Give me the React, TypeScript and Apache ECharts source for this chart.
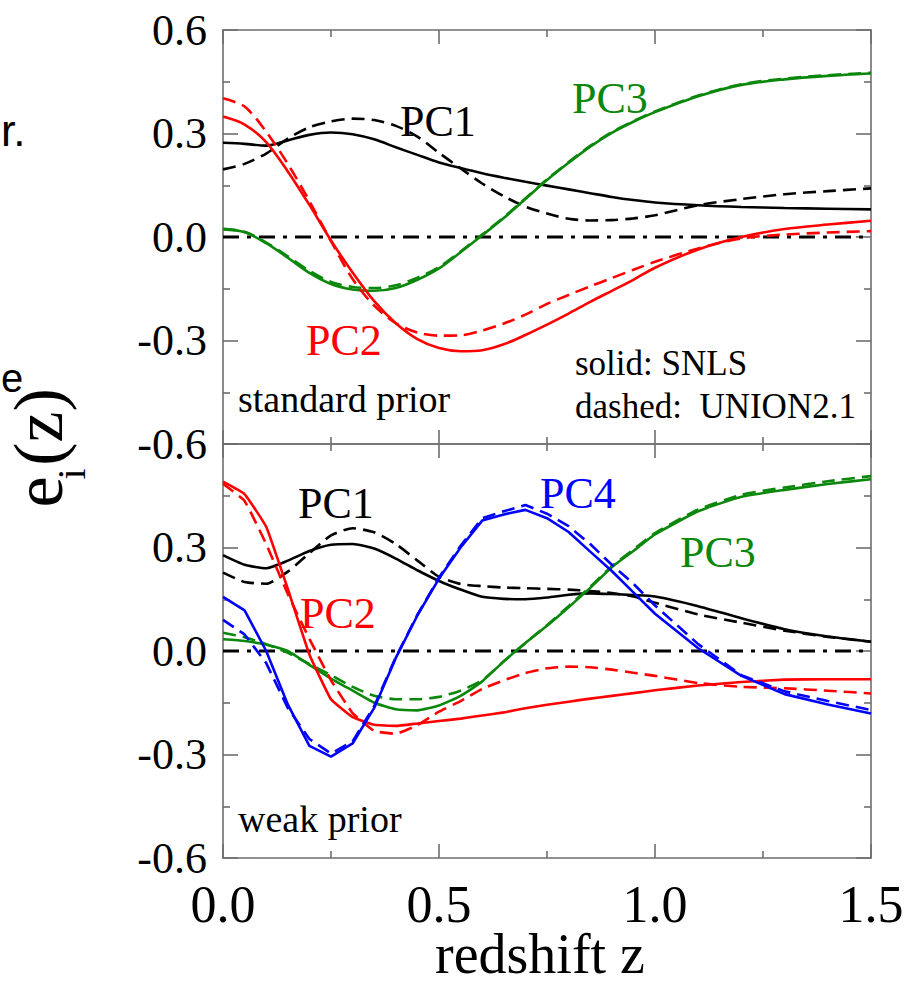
import React, { useEffect, useRef } from "react";
import * as echarts from "echarts";

// redshift grid shared by all curves
const Z = [0, 0.05, 0.1, 0.15, 0.2, 0.25, 0.3, 0.35, 0.4, 0.45, 0.5, 0.55, 0.6, 0.65, 0.7, 0.75, 0.8, 0.85, 0.9, 0.95, 1.0, 1.1, 1.2, 1.3, 1.4, 1.5];

// ---- standard prior (top panel) ----
const STD_PC1_SNLS = [0.273, 0.27, 0.265, 0.28, 0.296, 0.303, 0.298, 0.283, 0.26, 0.238, 0.216, 0.2, 0.185, 0.172, 0.16, 0.149, 0.138, 0.127, 0.116, 0.107, 0.1, 0.092, 0.087, 0.084, 0.082, 0.08];
const STD_PC1_UNION = [0.196, 0.212, 0.242, 0.285, 0.318, 0.335, 0.343, 0.339, 0.322, 0.291, 0.244, 0.199, 0.155, 0.118, 0.088, 0.068, 0.053, 0.048, 0.049, 0.054, 0.063, 0.092, 0.11, 0.124, 0.133, 0.141];
const STD_PC2_SNLS = [0.349, 0.326, 0.275, 0.19, 0.093, -0.01, -0.103, -0.186, -0.25, -0.296, -0.322, -0.331, -0.328, -0.311, -0.284, -0.254, -0.222, -0.188, -0.156, -0.124, -0.089, -0.036, 0.0, 0.023, 0.036, 0.047];
const STD_PC2_UNION = [0.402, 0.378, 0.305, 0.212, 0.104, -0.012, -0.122, -0.199, -0.25, -0.277, -0.286, -0.285, -0.271, -0.251, -0.225, -0.194, -0.168, -0.143, -0.119, -0.095, -0.072, -0.033, -0.004, 0.007, 0.013, 0.017];
const STD_PC3_SNLS = [0.022, 0.014, -0.018, -0.06, -0.104, -0.136, -0.152, -0.156, -0.148, -0.124, -0.091, -0.044, 0.005, 0.055, 0.11, 0.165, 0.215, 0.262, 0.302, 0.334, 0.362, 0.408, 0.441, 0.457, 0.467, 0.474];
const STD_PC3_UNION = [0.024, 0.015, -0.016, -0.056, -0.098, -0.13, -0.145, -0.148, -0.14, -0.118, -0.087, -0.042, 0.007, 0.057, 0.112, 0.167, 0.217, 0.264, 0.304, 0.336, 0.364, 0.41, 0.443, 0.459, 0.469, 0.476];

// ---- weak prior (bottom panel) ----
const WEAK_PC1_SNLS = [0.278, 0.25, 0.24, 0.262, 0.29, 0.308, 0.31, 0.297, 0.268, 0.234, 0.203, 0.178, 0.157, 0.151, 0.15, 0.155, 0.163, 0.167, 0.165, 0.162, 0.158, 0.13, 0.095, 0.063, 0.042, 0.027];
const WEAK_PC1_UNION = [0.227, 0.2, 0.195, 0.23, 0.284, 0.335, 0.356, 0.344, 0.31, 0.262, 0.215, 0.194, 0.188, 0.184, 0.182, 0.18, 0.178, 0.174, 0.168, 0.158, 0.14, 0.106, 0.082, 0.059, 0.041, 0.027];
const WEAK_PC2_SNLS = [0.491, 0.455, 0.36, 0.18, -0.01, -0.14, -0.192, -0.214, -0.217, -0.21, -0.203, -0.196, -0.187, -0.178, -0.166, -0.156, -0.147, -0.138, -0.13, -0.122, -0.114, -0.1, -0.09, -0.083, -0.082, -0.082];
const WEAK_PC2_UNION = [0.485, 0.435, 0.31, 0.165, 0.035, -0.085, -0.18, -0.232, -0.24, -0.215, -0.176, -0.145, -0.11, -0.085, -0.064, -0.05, -0.045, -0.047, -0.054, -0.063, -0.072, -0.093, -0.104, -0.108, -0.115, -0.123];
const WEAK_PC3_SNLS = [0.034, 0.029, 0.018, 0.0, -0.04, -0.08, -0.115, -0.15, -0.169, -0.172, -0.158, -0.13, -0.088, -0.03, 0.023, 0.073, 0.127, 0.183, 0.243, 0.29, 0.338, 0.405, 0.447, 0.467, 0.484, 0.498];
const WEAK_PC3_UNION = [0.053, 0.04, 0.02, -0.005, -0.038, -0.07, -0.104, -0.13, -0.14, -0.14, -0.133, -0.115, -0.085, -0.03, 0.023, 0.075, 0.13, 0.186, 0.246, 0.294, 0.342, 0.41, 0.453, 0.474, 0.492, 0.507];
const WEAK_PC4_SNLS = [0.157, 0.118, 0.0, -0.155, -0.275, -0.306, -0.268, -0.165, -0.02, 0.103, 0.21, 0.3, 0.378, 0.396, 0.409, 0.385, 0.345, 0.288, 0.232, 0.17, 0.108, 0.008, -0.072, -0.125, -0.155, -0.181];
const WEAK_PC4_UNION = [0.09, 0.048, -0.035, -0.165, -0.255, -0.297, -0.262, -0.16, -0.018, 0.105, 0.213, 0.305, 0.385, 0.405, 0.423, 0.398, 0.362, 0.31, 0.25, 0.195, 0.132, 0.02, -0.07, -0.117, -0.145, -0.171];

const ZERO_LINE = [0, 1.5];

// axis ticks
const X_MIN = 0;
const X_MAX = 1.5;
const X_STEP = 0.5;
const Y_MIN = -0.6;
const Y_MAX = 0.6;
const Y_STEP = 0.3;

const SERIF = "'Liberation Serif', 'Times New Roman', serif";
const SANS = "'Liberation Sans', Arial, sans-serif";
const AXIS_COLOR = "#6e6e6e";
const RED = "#ff0000";
const GREEN = "#0b870b";
const BLUE = "#0000ff";
const BLACK = "#000000";

const fmt = (v: number) => (Math.abs(v) < 1e-9 ? 0 : v).toFixed(1);

function xAxis(gridIndex: number, position: "top" | "bottom", showLabels: boolean) {
  return {
    type: "value",
    gridIndex,
    position,
    min: X_MIN,
    max: X_MAX,
    interval: X_STEP,
    axisLine: { show: true, onZero: false, lineStyle: { color: AXIS_COLOR, width: 1.6 } },
    axisTick: { show: true, inside: true, length: 14, lineStyle: { color: AXIS_COLOR, width: 1.6 } },
    minorTick: { show: true, splitNumber: 2, length: 7, lineStyle: { color: AXIS_COLOR, width: 1.6 } },
    splitLine: { show: false },
    minorSplitLine: { show: false },
    axisLabel: {
      show: showLabels,
      formatter: fmt,
      fontFamily: SERIF,
      fontSize: 52,
      color: "#000",
      margin: 20,
    },
  };
}

function yAxis(gridIndex: number, position: "left" | "right", showLabels: boolean, showMax: boolean) {
  return {
    type: "value",
    gridIndex,
    position,
    min: Y_MIN,
    max: Y_MAX,
    interval: Y_STEP,
    axisLine: { show: true, onZero: false, lineStyle: { color: AXIS_COLOR, width: 1.6 } },
    axisTick: { show: true, inside: true, length: 15, lineStyle: { color: AXIS_COLOR, width: 1.6 } },
    minorTick: { show: true, splitNumber: 2, length: 7, lineStyle: { color: AXIS_COLOR, width: 1.6 } },
    splitLine: { show: false },
    minorSplitLine: { show: false },
    axisLabel: {
      show: showLabels,
      showMaxLabel: showMax,
      showMinLabel: true,
      formatter: fmt,
      fontFamily: SERIF,
      fontSize: 44,
      color: "#000",
      margin: 16,
    },
  };
}

function curve(name: string, values: number[], panel: number, color: string, dashed: boolean, smooth: number) {
  return {
    name,
    type: "line",
    xAxisIndex: panel === 0 ? 0 : 2,
    yAxisIndex: panel === 0 ? 0 : 2,
    data: Z.map((z, i) => [z, values[i]]),
    showSymbol: false,
    smooth,
    lineStyle: { color, width: 2.6, type: dashed ? [13, 7] : "solid" },
    z: 3,
  };
}

function zeroLine(panel: number) {
  return {
    name: "zero" + panel,
    type: "line",
    xAxisIndex: panel === 0 ? 0 : 2,
    yAxisIndex: panel === 0 ? 0 : 2,
    data: ZERO_LINE.map((z) => [z, 0]),
    showSymbol: false,
    lineStyle: { color: BLACK, width: 2.8, type: [16, 8, 4, 8] },
    z: 2,
  };
}

function label(text: string, x: number, y: number, color: string, size: number, extra: any = {}) {
  return {
    type: "text",
    x,
    y,
    z: 10,
    style: {
      text,
      fill: color,
      fontFamily: SERIF,
      fontSize: size,
      align: "left",
      verticalAlign: "middle",
      ...extra,
    },
  };
}

export default function App() {
  const ref = useRef<HTMLDivElement>(null);
  useEffect(() => {
    const chart = echarts.init(ref.current!, null, { renderer: "svg" });
    const option: any = {
      animation: false,
      backgroundColor: "#ffffff",
      grid: [
        { left: 223, top: 30, width: 648, height: 414, containLabel: false },
        { left: 223, top: 444, width: 648, height: 414, containLabel: false },
      ],
      xAxis: [
        xAxis(0, "bottom", false),
        xAxis(0, "top", false),
        xAxis(1, "bottom", true),
        xAxis(1, "top", false),
      ],
      yAxis: [
        yAxis(0, "left", true, true),
        yAxis(0, "right", false, true),
        yAxis(1, "left", true, false),
        yAxis(1, "right", false, false),
      ],
      series: [
        zeroLine(0),
        zeroLine(1),
        curve("std PC1 SNLS", STD_PC1_SNLS, 0, BLACK, false, 0.3),
        curve("std PC1 UNION2.1", STD_PC1_UNION, 0, BLACK, true, 0.3),
        curve("std PC3 UNION2.1", STD_PC3_UNION, 0, GREEN, true, 0.3),
        curve("std PC3 SNLS", STD_PC3_SNLS, 0, GREEN, false, 0.3),
        curve("std PC2 UNION2.1", STD_PC2_UNION, 0, RED, true, 0.3),
        curve("std PC2 SNLS", STD_PC2_SNLS, 0, RED, false, 0.3),
        curve("weak PC1 SNLS", WEAK_PC1_SNLS, 1, BLACK, false, 0.2),
        curve("weak PC1 UNION2.1", WEAK_PC1_UNION, 1, BLACK, true, 0.2),
        curve("weak PC3 UNION2.1", WEAK_PC3_UNION, 1, GREEN, true, 0.15),
        curve("weak PC3 SNLS", WEAK_PC3_SNLS, 1, GREEN, false, 0.15),
        curve("weak PC2 UNION2.1", WEAK_PC2_UNION, 1, RED, true, 0.1),
        curve("weak PC2 SNLS", WEAK_PC2_SNLS, 1, RED, false, 0.1),
        curve("weak PC4 UNION2.1", WEAK_PC4_UNION, 1, BLUE, true, 0),
        curve("weak PC4 SNLS", WEAK_PC4_SNLS, 1, BLUE, false, 0),
      ],
      graphic: [
        // top panel annotations
        label("PC1", 400, 121, BLACK, 44),
        label("PC3", 572, 98, GREEN, 44),
        label("PC2", 306, 340, RED, 44),
        label("standard prior", 238, 399, BLACK, 38),
        label("solid: SNLS", 575, 363, BLACK, 35),
        label("dashed:\u00a0 UNION2.1", 575, 406, BLACK, 35),
        // bottom panel annotations
        label("PC1", 298, 503, BLACK, 44),
        label("PC2", 300, 613, RED, 44),
        label("PC4", 540, 493, BLUE, 44),
        label("PC3", 680, 552, GREEN, 44),
        label("weak prior", 238, 819, BLACK, 38),
        // axis titles
        label("redshift z", 540, 954, BLACK, 56, { align: "center" }),
        { ...label("e", 38, 492, BLACK, 70, { align: "center" }), rotation: Math.PI / 2 },
        { ...label("i", 71, 474, BLACK, 40, { align: "center" }), rotation: Math.PI / 2 },
        { ...label("(z)", 38, 427, BLACK, 70, { align: "center" }), rotation: Math.PI / 2 },
        // fragments of neighbouring text at the left edge
        label("r.", 1, 130, BLACK, 44, { fontFamily: SANS }),
        label("e", 1, 378, BLACK, 40, { fontFamily: SANS }),
      ],
    };
    chart.setOption(option);
    return () => chart.dispose();
  }, []);
  return (
    <div
      ref={ref}
      style={{ position: "absolute", left: 0, top: 0, width: 917, height: 993, background: "#fff" }}
    />
  );
}
